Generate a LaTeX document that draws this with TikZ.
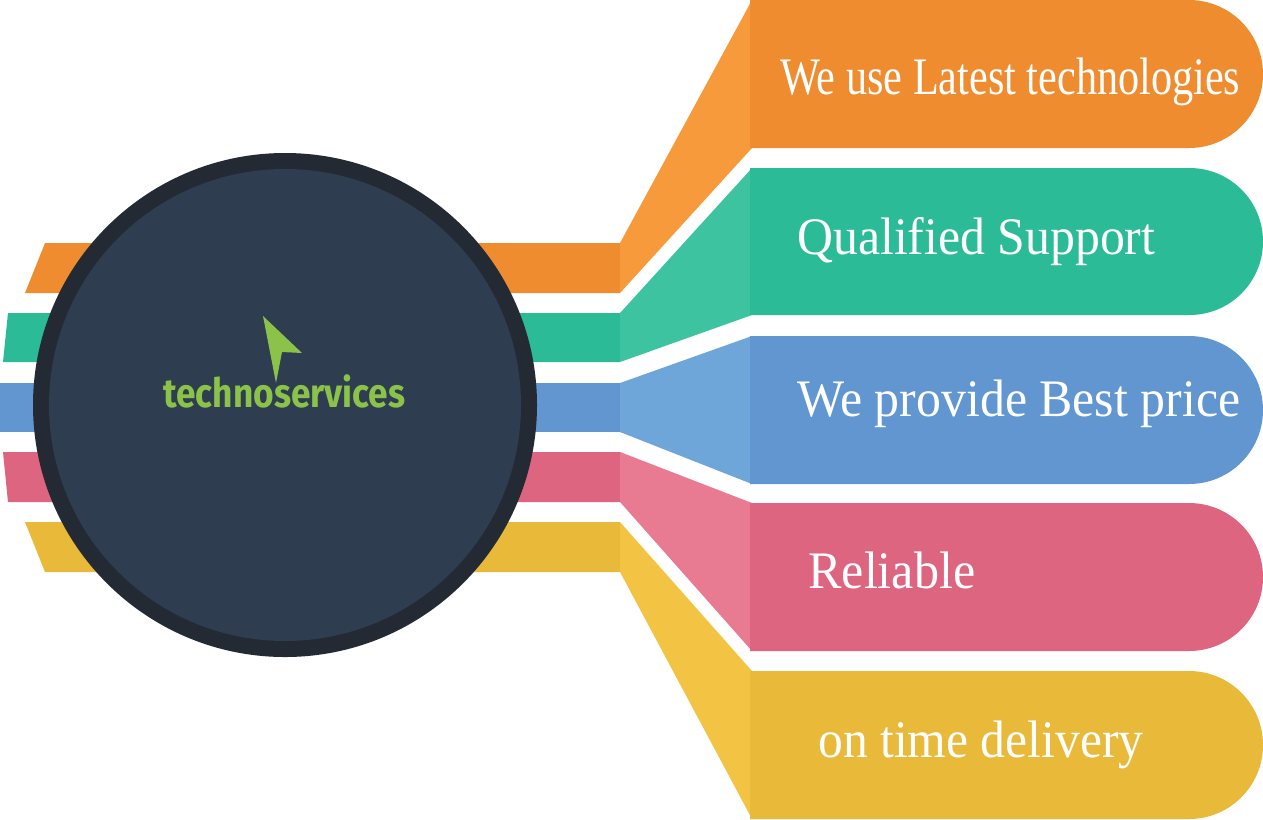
\documentclass[tikz,border=0pt]{standalone}
\usepackage{fontspec}
\setmainfont{Liberation Serif}
\newfontfamily\logofont{Fira Sans}
\usepackage{graphicx}
\definecolor{cOrange}{HTML}{EF8C2F}
\definecolor{cOrangeL}{HTML}{F69A3C}
\definecolor{cGreen}{HTML}{2BBB96}
\definecolor{cGreenL}{HTML}{3EC3A1}
\definecolor{cBlue}{HTML}{6196D0}
\definecolor{cBlueL}{HTML}{6EA6DA}
\definecolor{cPink}{HTML}{DE6580}
\definecolor{cPinkL}{HTML}{E87A92}
\definecolor{cYellow}{HTML}{E9B93A}
\definecolor{cYellowL}{HTML}{F3C443}
\definecolor{ringdark}{HTML}{232A33}
\definecolor{hubfill}{HTML}{2E3D50}
\definecolor{logogreen}{HTML}{8BC34A}
\tikzset{
  label/.style={anchor=west, text=white, inner sep=0pt,
    font=\fontsize{30}{36}\selectfont},
  band/.style={draw=none}
}
\newcommand{\squeeze}[2]{\resizebox{#1}{\height}{#2}}
\begin{document}
\begin{tikzpicture}[x=0.02cm, y=-0.02cm]
  \useasboundingbox (0,0) rectangle (1263,819);

  % left bands, fans and right boxes
  \foreach \col/\top/\bot/\ltop/\lbot/\ra/\rb in
    {cOrange/243/293/45/25/0/148, cGreen/313/362/8/3/168/315,
     cBlue/383/432/0/0/336/484, cPink/452/502/3/8/503/651,
     cYellow/522/572/25/45/671/819}{
    \fill[band, \col] (\ltop,\top) -- (620,\top) -- (620,\bot) -- (\lbot,\bot) -- cycle;
    \fill[band, \col L] (620,\top) -- (752,\ra) -- (752,\rb) -- (620,\bot) -- cycle;
    \pgfmathsetmacro{\rad}{(\rb-\ra)/2}
    \fill[band, \col] (750,\ra) -- (1263-\rad,\ra)
      arc[start angle=90, end angle=-90, x radius=\rad, y radius=-\rad] -- (750,\rb) -- cycle;
  }

  % hub
  \fill[ringdark] (285,405) circle[radius=252];
  \fill[hubfill] (285,405) circle[radius=236];

  % logo
  \fill[logogreen] (263,316) -- (302,353) -- (282,352) -- (276,383) -- cycle;
  \node (logo) [anchor=base west, inner sep=0pt, text=logogreen,
    font=\logofont\bfseries\fontsize{23}{26}\selectfont] at (163,407)
    {\squeeze{4.84cm}{technoservices}};

  % labels
  \node (latest) [label] at (780,82) {\squeeze{9.2cm}{We use Latest technologies}};
  \node (support) [label] at (797,242) {\squeeze{7.16cm}{Qualified Support}};
  \node (price) [label] at (797,404) {\squeeze{8.86cm}{We provide Best price}};
  \node (reliable) [label] at (808,570) {\squeeze{3.34cm}{Reliable}};
  \node (delivery) [label] at (818,745) {\squeeze{6.5cm}{on time delivery}};
\end{tikzpicture}
\end{document}
